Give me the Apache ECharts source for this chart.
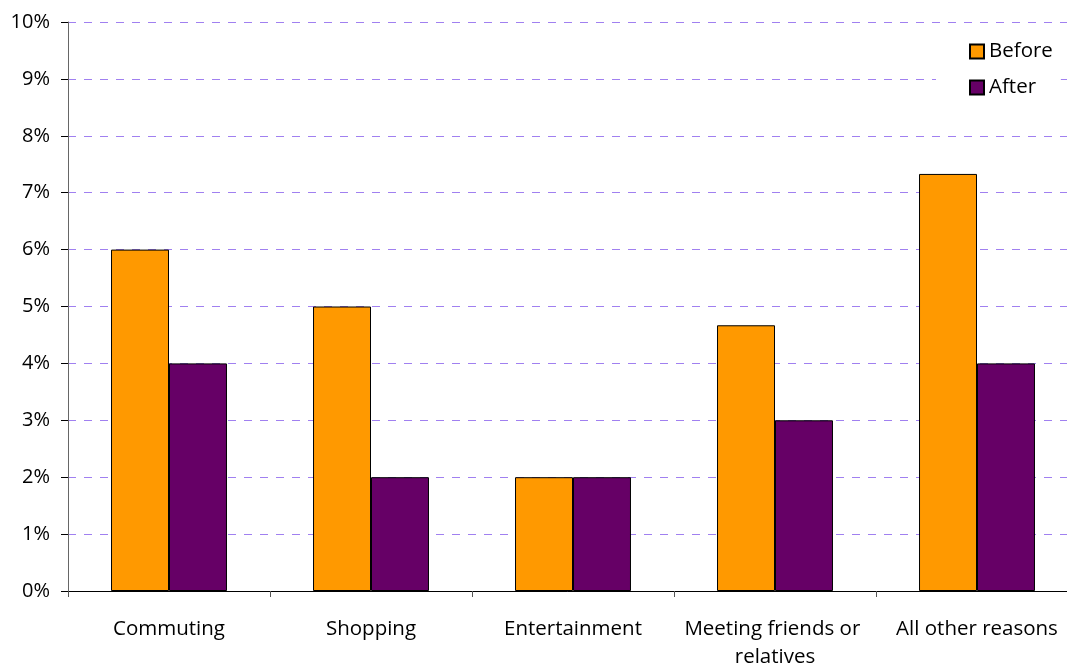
<!DOCTYPE html>
<html><head><meta charset="utf-8">
<script src="https://cdn.jsdelivr.net/npm/echarts@6/dist/echarts.min.js"></script>
<style>html,body{margin:0;padding:0;background:#fff}#c{width:1067px;height:663px}</style>
</head><body><div id="c"></div>
<script>
const categories = ['Commuting', 'Shopping', 'Entertainment', 'Meeting friends or relatives', 'All other reasons'];
const before = [6, 5, 2, 4.67, 7.33];
const after = [4, 2, 2, 3, 4];
const seriesNames = ['Before', 'After'];
const FONT = 'Open Sans';
const chart = echarts.init(document.getElementById('c'));
chart.setOption({
  animation: false,
  backgroundColor: '#fff',
  grid: { left: 68, top: 22, bottom: 72, right: -11, containLabel: false, outerBoundsMode: 'none' },
  legend: {
    left: 936, top: 35, orient: 'vertical', itemGap: 15,
    itemWidth: 14, itemHeight: 14, icon: 'rect',
    backgroundColor: '#fff', padding: [6, 8, 6, 33],
    textStyle: { fontFamily: FONT, fontSize: 20.5, color: '#000', padding: [0, 0, 0, 0] },
    data: seriesNames
  },
  xAxis: {
    type: 'category', data: categories,
    axisLine: { lineStyle: { color: '#000', width: 1 } },
    axisTick: { show: true, length: 6, lineStyle: { color: '#555' } },
    axisLabel: { fontFamily: FONT, fontSize: 20.5, color: '#000', margin: 24, interval: 0,
      width: 198, overflow: 'break', lineHeight: 28 }
  },
  yAxis: {
    type: 'value', min: 0, max: 10, interval: 1,
    axisLine: { show: true, lineStyle: { color: '#666' } },
    axisTick: { show: true, length: 7, lineStyle: { color: '#000' } },
    axisLabel: { fontFamily: FONT, fontSize: 20, color: '#000', margin: 18, formatter: v => v + '%' },
    splitLine: { lineStyle: { color: '#a080f0', type: [8, 8], width: 1 } }
  },
  series: [
    { name: seriesNames[0], type: 'bar', data: before, barGap: '0%', barCategoryGap: '42.6%',
      itemStyle: { color: '#ff9900', borderColor: '#000', borderWidth: 1 } },
    { name: seriesNames[1], type: 'bar', data: after, barGap: '0%', barCategoryGap: '42.6%',
      itemStyle: { color: '#660066', borderColor: '#000', borderWidth: 1 } }
  ]
});
</script></body></html>
